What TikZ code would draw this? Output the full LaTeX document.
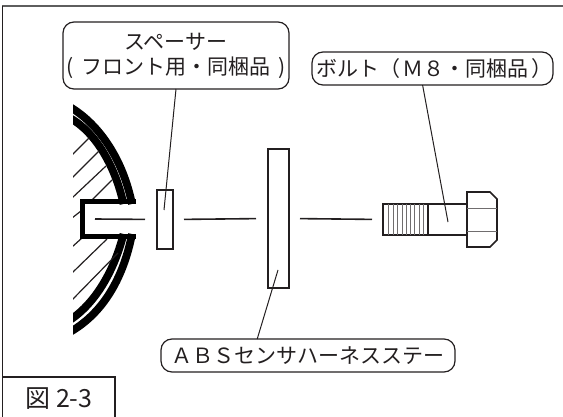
\documentclass[tikz,border=0pt]{standalone}
\usepackage{fontspec}
\setmainfont{Noto Sans CJK JP}
\usepackage{xcolor}
\usepackage{tikz}
\usetikzlibrary{positioning}
\definecolor{inkdark}{HTML}{231F20}
\definecolor{framegray}{HTML}{5E5E5E}
\tikzset{
	partbox/.style={draw=inkdark, line width=1.6pt, inner sep=0pt, outer sep=0pt},
	calloutbox/.style={draw=inkdark, line width=1.2pt, rounded corners=11pt, inner sep=0pt, outer sep=0pt, text=inkdark, align=center, font=\fontsize{21}{25}\selectfont},
	leaderline/.style={draw=inkdark, line width=1pt},
	axisline/.style={draw=inkdark, line width=1.6pt},
	hubband/.style={draw=black, line width=7.8pt},
	hubhatch/.style={draw=inkdark, line width=1.2pt},
	threadline/.style={draw=inkdark!65, line width=0.8pt}
}

\begin{document}
\begin{tikzpicture}[x=1pt, y=-1pt]
	\useasboundingbox (0,0) rectangle (563,417);
	\draw[framegray, line width=2.4pt] (2,6) -- (563,6);
	\draw[inkdark, line width=1.2pt] (2.5,6) -- (2.5,417);
	\node[draw=inkdark, line width=1.2pt, inner sep=0pt, outer sep=0pt, minimum width=112.5pt, minimum height=44pt, text=inkdark, font=\fontsize{25}{29}\selectfont] (figlabel) at (58.75,399) {図\hspace{6pt}2-3};
	\begin{scope}
		\clip (73,95) rectangle (140,345);
		\draw[hubband] (70,107) .. controls (100,125) and (123,160) .. (132,204);
		\draw[hubband] (70,118) .. controls (95,132) and (115,165) .. (123.5,204);
		\draw[hubband] (132,234) .. controls (124,275) and (105,312) .. (70,332);
		\draw[hubband] (123.5,234) .. controls (115,268) and (97,302) .. (70,320);
		\foreach \xa/\ya/\xb/\yb in {72/155/89/138, 72/178/99/151, 72/198/106/166, 92/200/112/180, 72/218/81/211, 72/247/82/238, 72/273/107/239, 72/300/118/253}
			\draw[hubhatch] (\xa,\ya) -- (\xb,\yb);
	\end{scope}
	\draw[black, line width=5pt] (136,201.5) -- (82,201.5) -- (82,236.5) -- (136,236.5);
	\node[partbox, minimum width=16pt, minimum height=59pt] (spacerpart) at (165,219.5) {};
	\node[partbox, minimum width=21pt, minimum height=139pt] (platepart) at (278.5,218.5) {};
	\node[partbox, minimum width=84pt, minimum height=31pt] (boltshank) at (425,219.5) {};
	\draw[partbox] (467,192) -- (490,192) -- (497,199) -- (497,240) -- (490,247) -- (467,247) -- cycle;
	\draw[threadline] (467,208) -- (497,208);
	\draw[threadline] (467,231) -- (497,231);
	\foreach \tx in {388,393,397,402,406,410,414,419,423}
		\draw[threadline] (\tx,204) -- (\tx,235);
	\draw[partbox] (428,204) -- (428,235);
	\coordinate (axisstart) at (95,219);
	\draw[axisline, shorten >=12pt] (axisstart) -- (spacerpart.west);
	\draw[axisline, shorten <=11pt, shorten >=12pt] (spacerpart.east) -- (platepart.west);
	\draw[axisline, shorten <=11pt, shorten >=11pt] (platepart.east) -- (boltshank.west);
	\node[calloutbox, minimum width=226pt, minimum height=67pt] (spacerlabel) at (176,55.5) {スペーサー\\(\hspace{8pt}フロント用・同梱品\hspace{8pt})};
	\node[calloutbox, minimum width=241pt, minimum height=33pt] (boltlabel) at (432.5,68.5) {\hspace*{4pt}ボルト（\hspace{2pt}Ｍ８・同梱品\hspace{3pt}）};
	\node[calloutbox, minimum width=294pt, minimum height=33pt] (abslabel) at (308,355.5) {ＡＢＳセンサハーネスステー};
	\coordinate (spacerend) at (164,210);
	\coordinate (boltend) at (448,222);
	\coordinate (plateend) at (278,270);
	\draw[leaderline] (spacerlabel.south) -- (spacerend);
	\draw[leaderline] (boltlabel.239) -- (boltend);
	\draw[leaderline] (abslabel.162) -- (plateend);
\end{tikzpicture}
\end{document}
